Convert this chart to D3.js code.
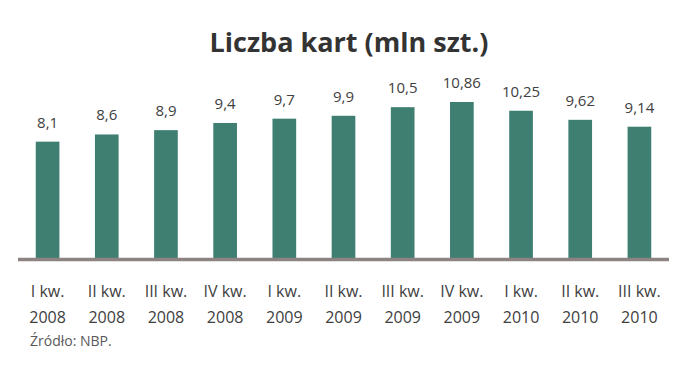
<!DOCTYPE html>
<html>
<head>
<meta charset="utf-8">
<script src="https://cdn.jsdelivr.net/npm/d3@7"></script>
<style>
body { margin: 0; background: white; }
text { font-family: "Open Sans", "Noto Sans", sans-serif; }
</style>
</head>
<body>
<div id="chart"></div>
<script>
var svgWidth = 690
var svgHeight = 378
var quarters = ["I kw.", "II kw.", "III kw.", "IV kw.", "I kw.", "II kw.", "III kw.", "IV kw.", "I kw.", "II kw.", "III kw."]
var years = ["2008", "2008", "2008", "2008", "2009", "2009", "2009", "2009", "2010", "2010", "2010"]
var values = [8.1, 8.6, 8.9, 9.4, 9.7, 9.9, 10.5, 10.86, 10.25, 9.62, 9.14]
var valueLabels = ["8,1", "8,6", "8,9", "9,4", "9,7", "9,9", "10,5", "10,86", "10,25", "9,62", "9,14"]

var left = 18, right = 669, baseline = 258

var svg = d3.select("#chart")
	.append("svg")
	.attr("width", svgWidth)
	.attr("height", svgHeight)

var x = d3.scaleBand()
	.domain(d3.range(values.length))
	.range([left, right])
	.paddingInner(0.6)
	.paddingOuter(0.3)

var y = d3.scaleLinear()
	.domain([0, 10.86])
	.range([baseline, baseline - 156])

svg.append("text")
	.attr("x", 349)
	.attr("y", 52)
	.attr("text-anchor", "middle")
	.attr("font-size", "27px")
	.attr("font-weight", "bold")
	.attr("fill", "#333333")
	.text("Liczba kart (mln szt.)")

svg.append("g")
	.selectAll("rect")
	.data(values)
	.enter()
	.append("rect")
	.attr("x", function(d, i){return x(i)})
	.attr("y", function(d){return y(d)})
	.attr("width", x.bandwidth())
	.attr("height", function(d){return baseline - y(d)})
	.attr("fill", "#3e7f72")

svg.append("g")
	.selectAll("text")
	.data(valueLabels)
	.enter()
	.append("text")
	.attr("x", function(d, i){return x(i) + x.bandwidth()/2})
	.attr("y", function(d, i){return y(values[i]) - 14})
	.attr("text-anchor", "middle")
	.attr("font-size", "15px")
	.attr("fill", "#404040")
	.text(function(d){return d})

svg.append("line")
	.attr("x1", left)
	.attr("x2", right)
	.attr("y1", baseline + 1.5)
	.attr("y2", baseline + 1.5)
	.attr("stroke", "#8e8383")
	.attr("stroke-width", 3.5)

var xLabels = svg.append("g")
	.selectAll("text")
	.data(quarters)
	.enter()
	.append("text")
	.attr("text-anchor", "middle")
	.attr("font-size", "16px")
	.attr("fill", "#404040")

xLabels.append("tspan")
	.attr("x", function(d, i){return x(i) + x.bandwidth()/2})
	.attr("y", 297)
	.text(function(d){return d})

xLabels.append("tspan")
	.attr("x", function(d, i){return x(i) + x.bandwidth()/2})
	.attr("y", 323)
	.text(function(d, i){return years[i]})

svg.append("text")
	.attr("x", 30)
	.attr("y", 346)
	.attr("font-size", "14px")
	.attr("fill", "#595959")
	.text("Źródło: NBP.")
</script>
</body>
</html>
